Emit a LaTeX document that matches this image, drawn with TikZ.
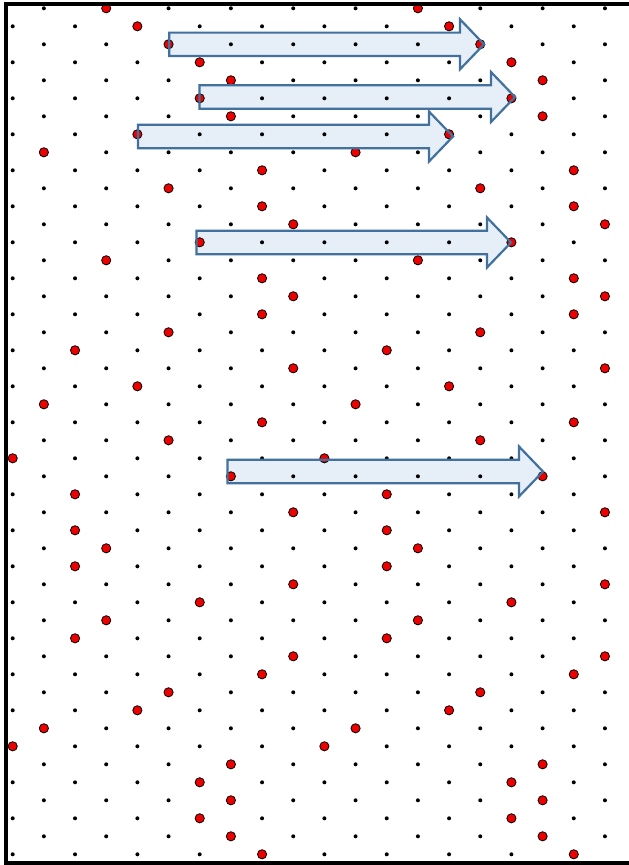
\documentclass[tikz,border=0pt]{standalone}
\definecolor{arrfill}{RGB}{230,238,248}
\definecolor{arrline}{RGB}{65,113,156}
\definecolor{reddot}{RGB}{236,0,0}
\tikzset{
  blackdot/.style={fill=black},
  reddotstyle/.style={fill=reddot, draw=black, line width=0.8pt},
  arrowfill/.style={fill=arrfill},
  arrowline/.style={draw=arrline, line width=2.2pt, line join=miter},
  frameline/.style={draw=black, line width=4pt, line join=miter}
}
\newcommand\arrfillcmd[3]{\fill[arrowfill] (#1,#3-11.7) -- (#2-24,#3-11.7) -- (#2-24,#3-25) -- (#2,#3) -- (#2-24,#3+25) -- (#2-24,#3+11.7) -- (#1,#3+11.7) -- cycle;}
\newcommand\arrlinecmd[3]{\draw[arrowline] (#1,#3-11.7) -- (#2-24,#3-11.7) -- (#2-24,#3-25) -- (#2,#3) -- (#2-24,#3+25) -- (#2-24,#3+11.7) -- (#1,#3+11.7) -- cycle;}
\begin{document}
\begin{tikzpicture}[x=1pt,y=-1pt]
\useasboundingbox (0,0) rectangle (629,865);
\fill[white] (0,0) rectangle (629,865);
% arrow fills
\foreach \a/\b/\c in {169.3/484/44.3, 199.5/515/97, 138/453/136.5, 196.5/511/242.5, 227.5/543/471.5}{
  \arrfillcmd{\a}{\b}{\c}
}
% lattice of small dots
\foreach \j in {0,...,47}{
  \foreach \k in {0,...,19}{
    \pgfmathtruncatemacro\pp{mod(\j+\k,2)}
    \ifnum\pp=1
      \fill[blackdot] (12.7+31.17*\k, 8.3+18*\j) circle[radius=2pt];
    \fi
  }
}
% red dots
\foreach \j/\k in {0/3,1/4,2/5,3/6,4/7,5/6,6/7,7/4,8/1,9/8,10/5,11/8,12/9,13/6,14/3,15/8,16/9,17/8,18/5,19/2,20/9,21/4,22/1,23/8,24/5,25/0,26/7,27/2,28/9,29/2,30/3,31/2,32/9,33/6,34/3,35/2,36/9,37/8,38/5,39/4,40/1,41/0,42/7,43/6,44/7,45/6,46/7,47/8}{
  \filldraw[reddotstyle] (12.7+31.17*\k, 8.3+18*\j) circle[radius=4.6pt];
  \filldraw[reddotstyle] (12.7+31.17*\k+311.7, 8.3+18*\j) circle[radius=4.6pt];
}
% arrow outlines
\foreach \a/\b/\c in {169.3/484/44.3, 199.5/515/97, 138/453/136.5, 196.5/511/242.5, 227.5/543/471.5}{
  \arrlinecmd{\a}{\b}{\c}
}
% frame
\draw[frameline] (629,4.3) -- (5.5,4.3) -- (5.5,863) -- (629,863);
\end{tikzpicture}
\end{document}
